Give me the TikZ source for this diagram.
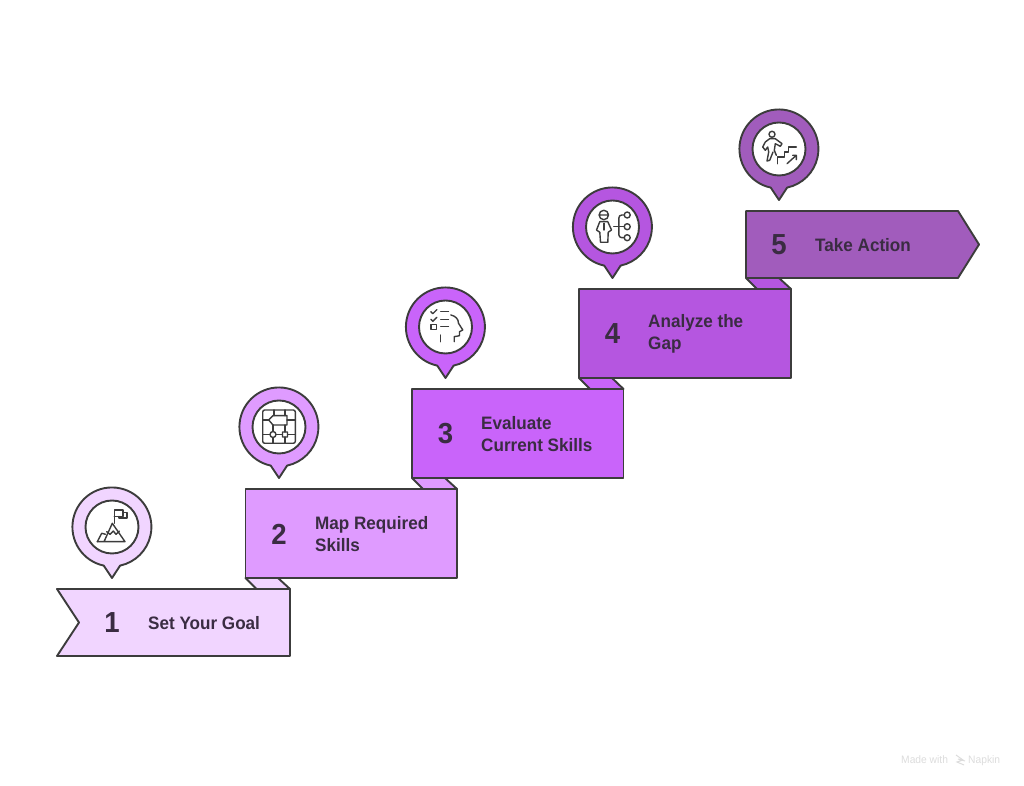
\documentclass[tikz,border=0pt]{standalone}
\usepackage{fontspec}
\setmainfont{Liberation Sans}[FakeStretch=.95]
\usepackage{tikz}
\definecolor{stepone}{HTML}{F1D5FF}
\definecolor{steptwo}{HTML}{DF9BFF}
\definecolor{stepthree}{HTML}{C964FA}
\definecolor{stepfour}{HTML}{B556E0}
\definecolor{stepfive}{HTML}{A15CBC}
\definecolor{inkline}{HTML}{3C3C3C}
\definecolor{inktext}{HTML}{3A2C42}
\definecolor{markgrey}{HTML}{DCDCDC}
\tikzset{
  outline/.style={draw=inkline,line width=1.9pt,line join=round},
  iconline/.style={draw=inkline,line width=1.4pt,line join=round,line cap=round},
  iconface/.style={circle,draw=inkline,line width=1.9pt,fill=white,minimum size=53pt,inner sep=0pt},
  stepnum/.style={text=inktext,font=\fontsize{29}{29}\selectfont\bfseries},
  steptext/.style={text=inktext,anchor=west,align=left,inner sep=0pt,font=\fontsize{18}{22}\selectfont\bfseries},
  marktext/.style={text=markgrey,inner sep=0pt,font=\fontsize{10.8}{12}\selectfont},
}

\begin{document}
\begin{tikzpicture}[x=1pt,y=1pt]
          \useasboundingbox (0,0) rectangle (1024,786);
          \draw[outline,fill=stepone] (245.5,208) -- (278,208) -- (290,197) -- (256.5,197) -- cycle;     % fold 1-2
          \draw[outline,fill=steptwo] (412,308) -- (445,308) -- (457,297) -- (423,297) -- cycle;         % fold 2-3
          \draw[outline,fill=stepthree] (579,408) -- (612,408) -- (623.5,397) -- (590,397) -- cycle;     % fold 3-4
          \draw[outline,fill=stepfour] (746,508) -- (779,508) -- (791,497) -- (757,497) -- cycle;        % fold 4-5
          \draw[outline,fill=stepone] (57,197) -- (290,197) -- (290,130) -- (57,130) -- (79,163.5) -- cycle;
          \draw[outline,fill=steptwo] (245.5,208) rectangle (457,297);
          \draw[outline,fill=stepthree] (412,308) rectangle (623.5,397);
          \draw[outline,fill=stepfour] (579,408) rectangle (791,497);
          \draw[outline,fill=stepfive] (746,508) -- (746,575) -- (958,575) -- (979,541.5) -- (958,508) -- cycle;
          \node[stepnum] (numone) at (112,163) {1};
          \node[stepnum] (numtwo) at (279,252) {2};
          \node[stepnum] (numthree) at (445.5,352) {3};
          \node[stepnum] (numfour) at (612.5,452) {4};
          \node[stepnum] (numfive) at (779,541) {5};
          \node[steptext] (textone) at (148,163) {Set Your Goal};
          \node[steptext] (texttwo) at (315,252) {Map Required\\Skills};
          \node[steptext] (textthree) at (481,352) {Evaluate\\Current Skills};
          \node[steptext] (textfour) at (648,452) {Analyze the\\Gap};
          \node[steptext] (textfive) at (815,541) {Take Action};
          \draw[outline,fill=stepone,shift={(112,259)}] (-8.3,-38.6) arc[start angle=258,end angle=-78,radius=39.5] -- (0,-51) -- cycle;
          \draw[outline,fill=steptwo,shift={(279,359)}] (-8.3,-38.6) arc[start angle=258,end angle=-78,radius=39.5] -- (0,-51) -- cycle;
          \draw[outline,fill=stepthree,shift={(445.5,459)}] (-8.3,-38.6) arc[start angle=258,end angle=-78,radius=39.5] -- (0,-51) -- cycle;
          \draw[outline,fill=stepfour,shift={(612.5,559)}] (-8.3,-38.6) arc[start angle=258,end angle=-78,radius=39.5] -- (0,-51) -- cycle;
          \draw[outline,fill=stepfive,shift={(779,637)}] (-8.3,-38.6) arc[start angle=258,end angle=-78,radius=39.5] -- (0,-51) -- cycle;
          \node[iconface] (faceone) at (112,259) {};
          \node[iconface] (facetwo) at (279,359) {};
          \node[iconface] (facethree) at (445.5,459) {};
          \node[iconface] (facefour) at (612.5,559) {};
          \node[iconface] (facefive) at (779,637) {};
          \begin{scope}[shift={(112,259)}] % mountain and flag
            \draw[iconline] (2.3,3.7) -- (2.3,17) -- (11,17) -- (11,10.5) -- (2.3,10.5);
            \draw[iconline] (11,14.5) -- (15,14.5) -- (15,9) -- (7,9) -- (7,10.5);
            \draw[iconline] (-14.7,-14.7) -- (13,-14.7) -- (0.3,3.7) -- (-8,-14.7);
            \draw[iconline] (-14.7,-14.7) -- (-10.3,-6.3) -- (-6.5,-7.3);
            \draw[iconline] (-5.3,-4.7) -- (-2,-7.3) -- (1.3,-4) -- (4,-7.3) -- (7.3,-4);
          \end{scope}
          \begin{scope}[shift={(279,359)}] % flow chart
            \draw[iconline,rounded corners=2pt] (-16.3,-16.3) rectangle (16.3,17);
            \draw[iconline] (-10.3,7) -- (-6,11.3) -- (8,11.3) -- (8,2) -- (-6,2) -- cycle;
            \draw[iconline] (-16.3,7) -- (-10.3,7) (8,7) -- (16.3,7) (-5,17) -- (-5,11.3) (6,17) -- (6,11.3);
            \draw[iconline] (-6,2) -- (-6,-4.5) (6,2) -- (6,-5) (-3,-7.5) -- (3.5,-7.5);
            \draw[iconline] (-6,-7.5) circle (3) (3.5,-10) rectangle (8.5,-5);
            \draw[iconline] (-6,-10.5) -- (-6,-16.3) (6,-10) -- (6,-16.3) (8.5,-7.5) -- (16.3,-7.5) (-16.3,-7.5) -- (-9,-7.5);
          \end{scope}
          \begin{scope}[shift={(445.5,459)}] % checklist and head
            \draw[iconline] (-14.7,15.3) -- (-12.7,13.3) -- (-8.7,17.3) (-14.7,7.7) -- (-12.7,5.7) -- (-8.7,9.7);
            \draw[iconline] (-4.7,15.3) -- (3,15.3) (-4.7,7.7) -- (3,7.7) (-4.7,0.3) -- (3,0.3);
            \draw[iconline] (-14.7,2.7) rectangle (-9.3,-2.3) (-5.3,-8) -- (-5.3,-14.7);
            \draw[iconline] (5.3,12) .. controls (10,11) and (13,8) .. (13,3.7) -- (17.3,-3) -- (14,-4.7) -- (14,-8.7) -- (8.7,-9.7) -- (8.7,-14.7);
          \end{scope}
          \begin{scope}[shift={(612.5,559)}] % person and branches
            \draw[iconline] (-8.7,12) circle (4.7) (-13.4,12) -- (-4,12);
            \draw[iconline] (-12.7,5.3) -- (-16,-3) -- (-12.7,-5.3) -- (-12,-15.3) -- (-4.7,-15.3) -- (-4.3,-5.3) -- (-1,-3) -- (-4.7,5.3) -- cycle;
            \draw[iconline] (-8.7,3.7) -- (-8.7,-3) (1.3,.3) -- (11.7,.3);
            \draw[iconline,rounded corners=3pt] (11.7,12) -- (6.3,12) -- (6.3,-10.7) -- (11.7,-10.7);
            \draw[iconline] (14.7,12) circle (3) (14.7,.3) circle (3) (14.7,-10.7) circle (3);
          \end{scope}
          \begin{scope}[shift={(779,637)}] % walker on stairs
            \draw[iconline] (-7,14.7) circle (3);
            \draw[iconline] (-3.7,10.3) -- (-9.3,10.3) -- (-13.7,7) -- (-16.3,2) -- (-13.7,-1.3) -- (-11.3,2) -- (-10.3,-3) -- (-12,-12) -- (-9.3,-11.3) -- (-6,-3);
            \draw[iconline] (-3.7,10.3) -- (3,5.3) -- (1.3,2.7) -- (-3.7,5.3) -- (-4.7,-1.3) -- (-2.7,-6.3);
            \draw[iconline] (-1.3,-14.7) -- (-1.3,-8) -- (5.3,-8) -- (5.3,-3) -- (9.7,-3) -- (9.7,2) -- (17.3,2);
            \draw[iconline] (8,-14.7) -- (17.3,-6.3) (13.7,-6.3) -- (17.3,-6.3) -- (17.3,-10.7);
          \end{scope}
          \node[marktext,anchor=base west] (markmade) at (901,22.5) {Made with};
          \node[marktext,anchor=base west] (markname) at (968,22.5) {Napkin};
          \draw[markgrey,line width=1pt] (956,31) -- (963,26) -- (957,24) -- (964,21) (958,27) -- (965,25);
        \end{tikzpicture}
\end{document}
